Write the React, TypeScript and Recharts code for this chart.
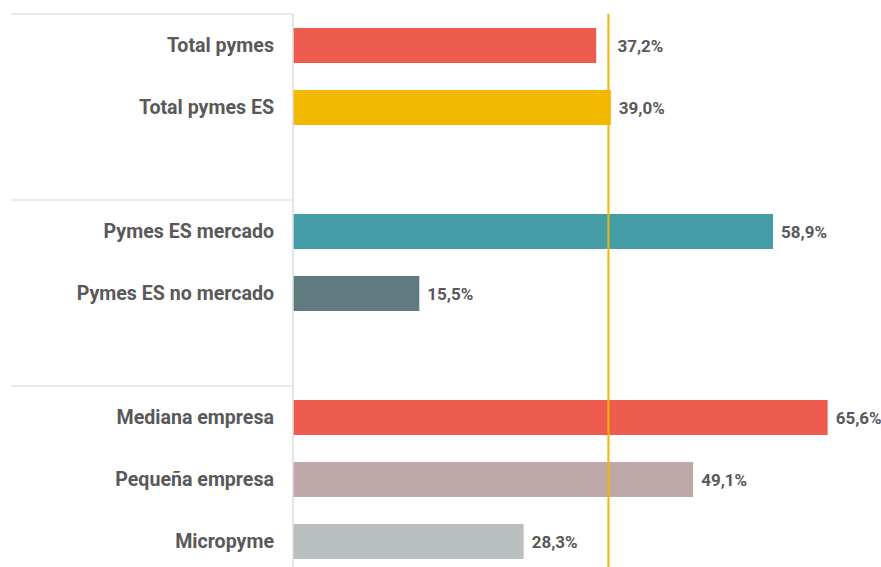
import { BarChart, Bar, XAxis, YAxis, Cell, LabelList, ReferenceLine } from 'recharts'

// blank entries are spacers between the three groups
const categories = [
  'Total pymes',
  'Total pymes ES',
  ' ',
  'Pymes ES mercado',
  'Pymes ES no mercado',
  '  ',
  'Mediana empresa',
  'Pequeña empresa',
  'Micropyme',
]
const values = [37.2, 39.0, null, 58.9, 15.5, null, 65.6, 49.1, 28.3]
const colors = ['#ee5c4f', '#f3b900', '', '#459da8', '#5f7b80', '', '#ee5c4f', '#bfa9a8', '#b9bfbe']
const groupStarts = ['Total pymes', 'Pymes ES mercado', 'Mediana empresa']
const referenceValue = 38.7

const data = categories.map((name, i) => ({ name, value: values[i], color: colors[i] }))

const FONT = 'Roboto, "Noto Sans", sans-serif'
const TEXT = '#595959'
const LABEL_GAP = 19

function CategoryTick(props: any) {
  const { x, y, payload } = props
  const half = payload.offset || 31
  const axisX = x + LABEL_GAP
  return (
    <g>
      {groupStarts.includes(payload.value) && (
        <line x1={11} x2={axisX} y1={y - half} y2={y - half} stroke="#e3e3e3" strokeWidth={1.5} />
      )}
      <text x={x} y={y} dy={6.5} textAnchor="end" fill={TEXT} fontSize={19.6} fontWeight={700} fontFamily={FONT}>
        {payload.value.trim()}
      </text>
    </g>
  )
}

function ValueLabel(props: any) {
  const { x, y, width, height, value } = props
  if (value == null) return null
  let tx = x + width + 8
  // keep clear of the reference line
  const lineX = x + (referenceValue * width) / value
  if (tx > lineX - 12 && tx < lineX + 8) tx = lineX + 9
  return (
    <text x={tx} y={y + height / 2} dy={6} fill={TEXT} fontSize={17} fontWeight={700} fontFamily={FONT}>
      {value.toFixed(1).replace('.', ',')}%
    </text>
  )
}

export default function App() {
  return (
    <div style={{ position: 'absolute', left: 0, top: 0, width: 881, height: 567, overflow: 'hidden', background: '#fff' }}>
      <BarChart
        width={881}
        height={580}
        layout="vertical"
        data={data}
        margin={{ top: 14, right: 17.5, bottom: 8, left: 0 }}
      >
        <XAxis type="number" domain={[0, 70]} hide />
        <YAxis
          type="category"
          dataKey="name"
          width={293}
          tickSize={0}
          tickMargin={LABEL_GAP}
          axisLine={{ stroke: '#dcdcdc', strokeWidth: 1.5 }}
          tickLine={false}
          tick={<CategoryTick />}
          interval={0}
        />
        <Bar dataKey="value" barSize={35} isAnimationActive={false}>
          {data.map((d) => (
            <Cell key={d.name} fill={d.color} />
          ))}
          <LabelList dataKey="value" content={<ValueLabel />} />
        </Bar>
        <ReferenceLine x={referenceValue} stroke="#f3b600" strokeWidth={2} />
      </BarChart>
    </div>
  )
}
